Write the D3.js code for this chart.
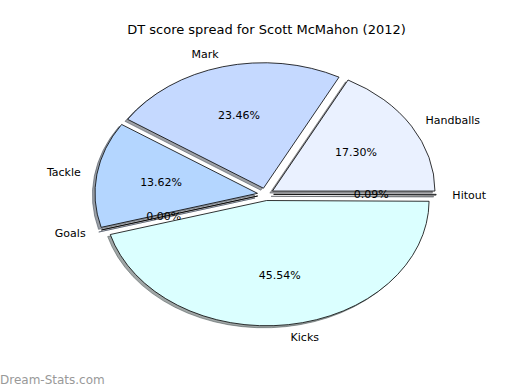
<!DOCTYPE html>
<html><head><meta charset="utf-8">
<script src="https://cdn.jsdelivr.net/npm/d3@7/dist/d3.min.js"></script>
<style>body{margin:0;background:#fff}svg{display:block}text{font-family:"DejaVu Sans",sans-serif}</style>
</head><body>
<script>
const categories = ["Handballs","Mark","Tackle","Goals","Kicks","Hitout"];
const values = [17.30, 23.46, 13.62, 0.00, 45.54, 0.09];
const colors = ["#eaf1ff","#c5d9ff","#b4d6ff","#a8c8ff","#dbffff","#e0ecff"];
const explode = [0.05,0.05,0.05,0.05,0.05,0.05];
const title = "DT score spread for Scott McMahon (2012)";

const W=520,H=390, cx=265.5, cy=194.3, rx=162.5, ry=125.5;
const svg=d3.select("body").append("svg").attr("width",W).attr("height",H);
svg.append("text").attr("x",266.5).attr("y",34).attr("text-anchor","middle")
  .attr("font-size",13).attr("fill","#000").text(title);

const total=d3.sum(values);
let t1=0;
const slices=values.map((v,i)=>{const f=v/total; const s={i,v,a0:t1*2*Math.PI,a1:(t1+f)*2*Math.PI,f}; t1+=f; return s;});
const arc=d3.arc().innerRadius(0).outerRadius(1);
const toD3=t=>Math.PI/2-t;
const shadowG=svg.append("g"), wedgeG=svg.append("g"), textG=svg.append("g");
slices.forEach(s=>{
  const tm=(s.a0+s.a1)/2;
  const ox=explode[s.i]*rx*Math.cos(tm), oy=-explode[s.i]*ry*Math.sin(tm);
  const d=arc({startAngle:toD3(s.a1),endAngle:toD3(s.a0)});
  const c=d3.rgb(colors[s.i]);
  const sc=d3.rgb(c.r*0.3,c.g*0.3,c.b*0.3);
  shadowG.append("path").attr("d",d)
    .attr("transform",`translate(${cx+ox-0.016*rx},${cy+oy+0.016*ry}) scale(${rx},${ry})`)
    .attr("fill",sc).attr("fill-opacity",0.5)
    .attr("stroke",sc).attr("stroke-opacity",0.5).attr("stroke-width",1).attr("vector-effect","non-scaling-stroke");
  wedgeG.append("path").attr("d",d)
    .attr("transform",`translate(${cx+ox},${cy+oy}) scale(${rx},${ry})`)
    .attr("fill",colors[s.i]).attr("stroke","#000").attr("stroke-width",0.8)
    .attr("vector-effect","non-scaling-stroke").attr("stroke-linejoin","miter");
  const xt=ox+1.1*rx*Math.cos(tm), yt=oy-1.1*ry*Math.sin(tm);
  textG.append("text").attr("x",cx+xt).attr("y",cy+yt).attr("dy","0.35em")
    .attr("text-anchor",xt>0?"start":"end").attr("font-size",11).text(categories[s.i]);
  const xp=ox+0.6*rx*Math.cos(tm), yp=oy-0.6*ry*Math.sin(tm);
  textG.append("text").attr("x",cx+xp).attr("y",cy+yp).attr("dy","0.35em")
    .attr("text-anchor","middle").attr("font-size",11).text(values[s.i].toFixed(2)+"%");
});
svg.append("text").attr("x",0).attr("y",384).attr("font-size",12).attr("fill","#999").text("Dream-Stats.com");
</script>
</body></html>
